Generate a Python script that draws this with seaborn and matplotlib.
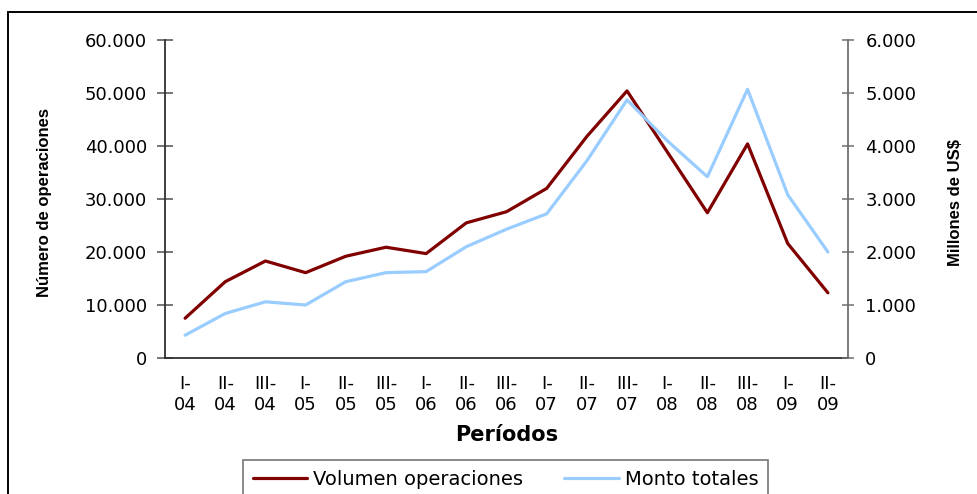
import numpy as np
import pandas as pd

import matplotlib
matplotlib.use('Agg')
import matplotlib.pyplot as plt
from matplotlib import font_manager
from matplotlib.patches import Rectangle
from matplotlib.ticker import FuncFormatter

import seaborn as sns


periodos = ['I-\n04', 'II-\n04', 'III-\n04',
            'I-\n05', 'II-\n05', 'III-\n05',
            'I-\n06', 'II-\n06', 'III-\n06',
            'I-\n07', 'II-\n07', 'III-\n07',
            'I-\n08', 'II-\n08', 'III-\n08',
            'I-\n09', 'II-\n09']

# número de operaciones (eje izquierdo)
volumen = [7500, 14400, 18300, 16100, 19200, 20900, 19700, 25500, 27600,
           32000, 41800, 50400, 38900, 27400, 40400, 21600, 12300]

# millones de US$ (eje derecho)
montos = [430, 840, 1060, 1000, 1440, 1610, 1630, 2100, 2430,
          2720, 3720, 4870, 4100, 3420, 5070, 3080, 2000]

izq_ticks = [0, 10000, 20000, 30000, 40000, 50000, 60000]
der_ticks = [0, 1000, 2000, 3000, 4000, 5000, 6000]


def miles(v, pos=None):
    return f'{v:,.0f}'.replace(',', '.')


def pick_font(names):
    instalados = {f.name for f in font_manager.fontManager.ttflist}
    for n in names:
        if n in instalados:
            return n
    return 'DejaVu Sans'


sns.set_theme(style='white')
plt.rcParams['font.family'] = ['DejaVu Sans']
plt.rcParams['text.color'] = 'black'
plt.rcParams['axes.labelcolor'] = 'black'

narrow = pick_font(['Liberation Sans Narrow', 'Liberation Sans'])
label_size = 14.5 if narrow == 'Liberation Sans Narrow' else 12

df = pd.DataFrame({'pos': np.arange(len(periodos)),
                   'volumen': volumen,
                   'montos': montos})

fig = plt.figure(figsize=(9.77, 4.94), dpi=100)
ax = fig.add_axes([165 / 977, 1 - 358 / 494, 683 / 977, 318 / 494])
ax2 = ax.twinx()

sns.lineplot(data=df, x='pos', y='volumen', ax=ax, color='#800000',
             linewidth=2.3, label='Volumen operaciones', legend=False)
sns.lineplot(data=df, x='pos', y='montos', ax=ax2, color='#99CCFF',
             linewidth=2.3, label='Monto totales', legend=False)

n = len(periodos)
ax.set_xlim(-0.5, n - 0.5)
ax.set_ylim(0, 60000)
ax2.set_ylim(0, 6000)

# etiquetas en el centro de cada categoría, marcas entre categorías
ax.set_xticks(np.arange(n))
ax.set_xticklabels(periodos, fontsize=13, linespacing=1.25)
ax.set_xticks(np.arange(-0.5, n, 1), minor=True)
ax.tick_params(axis='x', which='major', length=0, pad=12, colors='black')
ax.tick_params(axis='x', which='minor', length=7.5, width=1.1,
               direction='inout', color='#303030')

ax.set_yticks(izq_ticks)
ax.yaxis.set_major_formatter(FuncFormatter(miles))
ax.tick_params(axis='y', length=11.5, width=1.1, direction='inout',
               color='#505050', pad=7, labelsize=13, labelcolor='black')

ax2.set_yticks(der_ticks)
ax2.yaxis.set_major_formatter(FuncFormatter(miles))
ax2.tick_params(axis='y', length=9, width=1.1, direction='inout',
                color='#707070', pad=8, labelsize=13, labelcolor='black')

for s in ['top', 'right']:
    ax.spines[s].set_visible(False)
for s in ['left', 'bottom']:
    ax.spines[s].set_color('#303030')
    ax.spines[s].set_linewidth(1.3)
for s in ['top', 'left', 'bottom']:
    ax2.spines[s].set_visible(False)
ax2.spines['right'].set_color('#707070')
ax2.spines['right'].set_linewidth(1.3)

ax.set_xlabel('Períodos', fontsize=15, fontweight='bold', va='center',
              color='black')
ax.xaxis.set_label_coords(0.5, (358 - 435) / 318)
ax.set_ylabel('Número de operaciones', fontsize=label_size, fontweight='bold',
              family=[narrow, 'DejaVu Sans'], va='center', color='black')
ax.yaxis.set_label_coords((45 - 165) / 683, 0.49)
ax2.set_ylabel('Millones de US$', fontsize=label_size, fontweight='bold',
               family=[narrow, 'DejaVu Sans'], rotation=90, va='center',
               color='black')
ax2.yaxis.set_label_coords((955 - 165) / 683, 0.49)

# leyenda común
h1, l1 = ax.get_legend_handles_labels()
h2, l2 = ax2.get_legend_handles_labels()
leg = fig.legend(h1 + h2, l1 + l2, loc='upper left', ncol=2, mode='expand',
                 bbox_to_anchor=(243 / 977, 1 - 465 / 494, 525 / 977, 0.01),
                 bbox_transform=fig.transFigure, borderaxespad=0,
                 fontsize=14, handlelength=2.8, handletextpad=0.3,
                 borderpad=0.5, fancybox=False, framealpha=1,
                 labelcolor='black')
leg.get_frame().set_edgecolor('#808080')
leg.get_frame().set_linewidth(1.3)

# marco exterior del gráfico
fig.add_artist(Rectangle((8 / 977, -0.2), 1.2, 1.2 - 12 / 494,
                         transform=fig.transFigure, fill=False,
                         edgecolor='black', linewidth=1.4))

fig.savefig('out.png', dpi=100)
